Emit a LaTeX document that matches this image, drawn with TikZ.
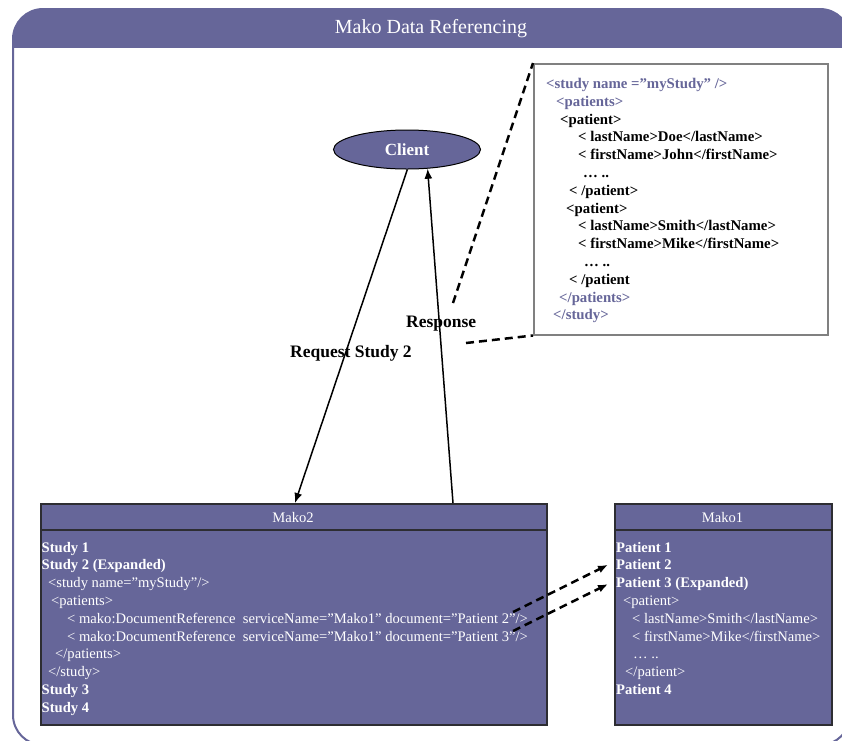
\documentclass[tikz,border=0pt]{standalone}
\usepackage{fontspec}
\setmainfont{Liberation Serif}
\usetikzlibrary{shapes.geometric,arrows.meta}
\definecolor{makopurple}{RGB}{102,102,153}
\definecolor{makoedge}{RGB}{45,45,50}

\begin{document}
\begin{tikzpicture}[x=1pt,y=-1pt,
  boxtext/.style={anchor=base west,inner sep=0pt,text=white,font=\fontsize{14.6}{16}\selectfont},
  boxbold/.style={boxtext,font=\fontsize{14.6}{16}\selectfont\bfseries},
  xmltext/.style={anchor=base west,inner sep=0pt,font=\fontsize{14.8}{16}\selectfont\bfseries},
  makobox/.style={draw=makoedge,line width=1.5pt,fill=makopurple,anchor=north west,inner sep=0pt,minimum height=221},
  callout/.style={line width=2.5pt,dash pattern=on 8pt off 5pt},
  msg/.style={line width=1.5pt,-{Latex[length=10pt,width=8pt]}}]
\useasboundingbox (0,0) rectangle (842,740);
\begin{scope}
\clip (0,0) rectangle (842,740);
\begin{scope}
\clip (0,0) rectangle (842,47);
\fill[makopurple,rounded corners=30] (13,9) rectangle (850,745);
\end{scope}
\draw[makopurple,line width=2pt,rounded corners=30] (13,9) rectangle (850,745);
\end{scope}
\node[anchor=base,text=white,font=\fontsize{20}{22}\selectfont] (title) at (431,33) {Mako Data Referencing};

\node[ellipse,draw,line width=1pt,fill=makopurple,minimum width=147,minimum height=39,inner sep=0pt,text=white,font=\fontsize{17}{19}\selectfont\bfseries] (client) at (407,149.5) {Client};

\node[draw=gray,line width=1.5pt,fill=white,minimum width=294,minimum height=271,anchor=north west,inner sep=0pt] (xmlbox) at (533,63) {};
\node[xmltext,text=makopurple] (x1) at (546,88.5) {<study name =”myStudy” />};
\node[xmltext,text=makopurple] (x2) at (556,106.3) {<patients>};
\node[xmltext] (x3) at (560,124.1) {<patient>};
\node[xmltext] (x4) at (578,141.9) {< lastName>Doe</lastName>};
\node[xmltext] (x5) at (578,159.7) {< firstName>John</firstName>};
\node[xmltext] (x6) at (583,177.5) {… ..};
\node[xmltext] (x7) at (569,195.3) {< /patient>};
\node[xmltext] (x8) at (566,213.1) {<patient>};
\node[xmltext] (x9) at (578,230.9) {< lastName>Smith</lastName>};
\node[xmltext] (x10) at (578,248.7) {< firstName>Mike</firstName>};
\node[xmltext] (x11) at (584,266.5) {… ..};
\node[xmltext] (x12) at (569,284.3) {< /patient};
\node[xmltext,text=makopurple] (x13) at (559,302.1) {</patients>};
\node[xmltext,text=makopurple] (x14) at (553,319.9) {</study>};

\node[makobox,minimum width=506] (mako2) at (40,503) {};
\draw[makoedge,line width=1.5pt] (mako2.north west) ++(0,27) -- ++(506,0);
\node[boxtext,anchor=base] (mako2head) at (293,522) {Mako2};
\node[boxbold] (m1) at (41.5,552) {Study 1};
\node[boxbold] (m2) at (41.5,569.8) {Study 2 (Expanded)};
\node[boxtext] (m3) at (48,587.6) {<study name=”myStudy”/>};
\node[boxtext] (m4) at (51,605.4) {<patients>};
\node[boxtext] (m5) at (67,623.2) {< mako:DocumentReference\ \ serviceName=”Mako1” document=”Patient 2”/>};
\node[boxtext] (m6) at (67,641) {< mako:DocumentReference\ \ serviceName=”Mako1” document=”Patient 3”/>};
\node[boxtext] (m7) at (55,658.8) {</patients>};
\node[boxtext] (m8) at (48,676.6) {</study>};
\node[boxbold] (m9) at (41.5,694.4) {Study 3};
\node[boxbold] (m10) at (41.5,712.2) {Study 4};

\node[makobox,minimum width=217] (mako1) at (614,503) {};
\draw[makoedge,line width=1.5pt] (mako1.north west) ++(0,27) -- ++(217,0);
\node[boxtext,anchor=base] (mako1head) at (722.5,522) {Mako1};
\node[boxbold] (p1) at (616,552) {Patient 1};
\node[boxbold] (p2) at (616,569.8) {Patient 2};
\node[boxbold] (p3) at (616,587.6) {Patient 3 (Expanded)};
\node[boxtext] (p4) at (623,605.4) {<patient>};
\node[boxtext] (p5) at (632,623.2) {< lastName>Smith</lastName>};
\node[boxtext] (p6) at (632,641) {< firstName>Mike</firstName>};
\node[boxtext] (p7) at (633,658.8) {… ..};
\node[boxtext] (p8) at (625,676.6) {</patient>};
\node[boxbold] (p9) at (616,694.4) {Patient 4};

\draw[msg] (client.-89) -- ([xshift=255pt]mako2.north west);
\draw[msg] ([xshift=413pt]mako2.north west) -- (client.-43);
\node[anchor=base west,inner sep=0pt,font=\fontsize{17.5}{19}\selectfont\bfseries] (reqlabel) at (290,357) {Request Study 2};
\node[anchor=base west,inner sep=0pt,font=\fontsize{17.5}{19}\selectfont\bfseries] (resplabel) at (406,327) {Response};

\coordinate (calltop) at (453,303);
\coordinate (callbottom) at (466,343);
\draw[callout] (calltop) -- (xmlbox.north west);
\draw[callout] (callbottom) -- (xmlbox.south west);

\coordinate (ref2) at (513,612);
\coordinate (ref3) at (513,631);
\draw[callout,-{Latex[length=10pt,width=8pt]}] (ref2) -- ([xshift=-8pt]p2.west);
\draw[callout,-{Latex[length=10pt,width=8pt]}] (ref3) -- ([xshift=-8pt]p3.west);
\end{tikzpicture}
\end{document}
